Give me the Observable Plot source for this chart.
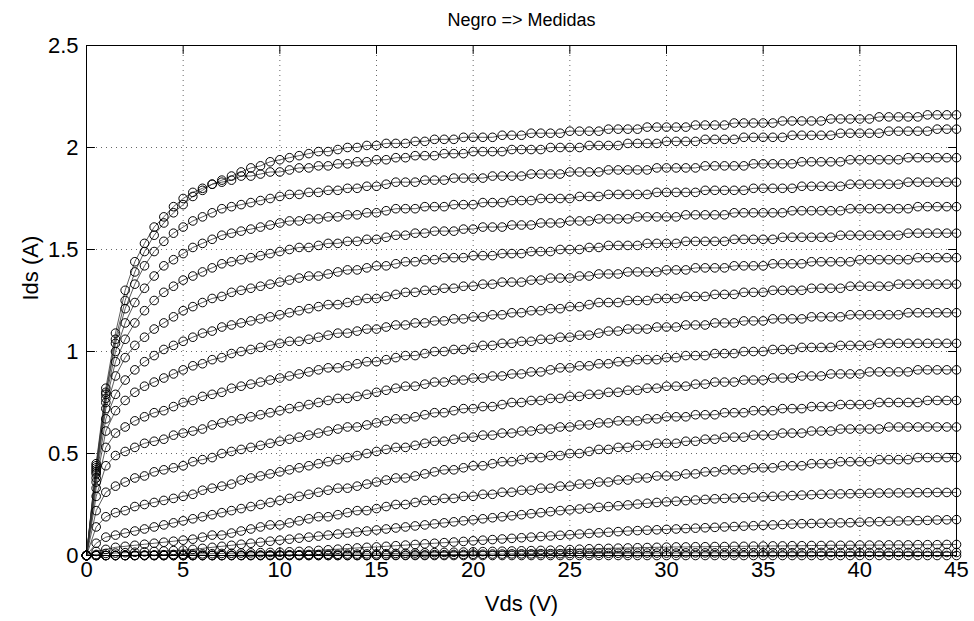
<!DOCTYPE html>
<html><head><meta charset="utf-8">
<script src="https://cdn.jsdelivr.net/npm/d3@7"></script>
<script src="https://cdn.jsdelivr.net/npm/@observablehq/plot@0.6"></script>
<style>
body{margin:0;background:#fff}
#chart svg{font-family:"Liberation Sans",Arial,Helvetica,sans-serif}
</style>
</head><body><div id="chart"></div>
<script>
const title = "Negro => Medidas";
const xLabel = "Vds (V)";
const yLabel = "Ids (A)";
const xTicks = [0,5,10,15,20,25,30,35,40,45];
const yTicks = [0,0.5,1,1.5,2,2.5];

const vds = [0,0.5,1,1.5,2,2.5,3,3.5,4,4.5,5,5.5,6,6.5,7,7.5,8,8.5,9,9.5,10,10.5,11,11.5,12,12.5,13,13.5,14,14.5,15,15.5,16,16.5,17,17.5,18,18.5,19,19.5,20,20.5,21,21.5,22,22.5,23,23.5,24,24.5,25,25.5,26,26.5,27,27.5,28,28.5,29,29.5,30,30.5,31,31.5,32,32.5,33,33.5,34,34.5,35,35.5,36,36.5,37,37.5,38,38.5,39,39.5,40,40.5,41,41.5,42,42.5,43,43.5,44,44.5,45];

const c1 = [0,.44,.80,1.06,1.25,1.39,1.49,1.57,1.63,1.68,
1.72,1.76,1.79,1.82,1.84,1.86,1.88,1.90,1.91,1.93,
1.94,1.95,1.96,1.97,1.98,1.98,1.99,2.00,2.00,2.01,
2.01,2.02,2.02,2.02,2.03,2.03,2.04,2.04,2.04,2.05,
2.05,2.05,2.05,2.06,2.06,2.06,2.07,2.07,2.07,2.07,
2.08,2.08,2.08,2.08,2.09,2.09,2.09,2.09,2.10,2.10,
2.10,2.10,2.10,2.11,2.11,2.11,2.11,2.12,2.12,2.12,
2.12,2.12,2.13,2.13,2.13,2.13,2.13,2.14,2.14,2.14,
2.14,2.14,2.15,2.15,2.15,2.15,2.15,2.16,2.16,2.16,
2.16];
const c2 = [0,.45,.82,1.09,1.30,1.44,1.53,1.61,1.66,1.71,
1.75,1.78,1.80,1.82,1.83,1.84,1.86,1.86,1.87,1.88,
1.88,1.89,1.90,1.90,1.91,1.91,1.92,1.92,1.93,1.93,
1.94,1.94,1.95,1.95,1.96,1.96,1.96,1.97,1.97,1.97,
1.98,1.98,1.98,1.98,1.99,1.99,1.99,1.99,2.00,2.00,
2.00,2.00,2.01,2.01,2.01,2.01,2.02,2.02,2.02,2.02,
2.03,2.03,2.03,2.03,2.04,2.04,2.04,2.04,2.05,2.05,
2.05,2.05,2.05,2.06,2.06,2.06,2.06,2.06,2.07,2.07,
2.07,2.07,2.07,2.08,2.08,2.08,2.08,2.08,2.09,2.09,
2.09];
const c3 = [0,.43,.79,1.04,1.21,1.33,1.42,1.49,1.54,1.58,
1.61,1.64,1.66,1.68,1.70,1.71,1.72,1.73,1.74,1.75,
1.76,1.77,1.77,1.78,1.78,1.79,1.79,1.80,1.80,1.81,
1.81,1.82,1.83,1.83,1.83,1.84,1.84,1.84,1.85,1.85,
1.85,1.85,1.86,1.86,1.86,1.86,1.87,1.87,1.87,1.87,
1.88,1.88,1.88,1.88,1.89,1.89,1.89,1.89,1.89,1.90,
1.90,1.90,1.90,1.90,1.91,1.91,1.91,1.91,1.91,1.92,
1.92,1.92,1.92,1.92,1.93,1.93,1.93,1.93,1.93,1.94,
1.94,1.94,1.94,1.94,1.94,1.95,1.95,1.95,1.95,1.95,
1.95];
const c4 = [0,.42,.77,1.00,1.14,1.24,1.31,1.37,1.42,1.45,
1.48,1.51,1.53,1.55,1.57,1.58,1.59,1.60,1.61,1.62,
1.63,1.64,1.64,1.65,1.65,1.66,1.66,1.67,1.67,1.68,
1.68,1.69,1.70,1.70,1.70,1.71,1.71,1.71,1.72,1.72,
1.72,1.73,1.73,1.73,1.74,1.74,1.74,1.75,1.75,1.75,
1.75,1.76,1.76,1.76,1.77,1.77,1.77,1.77,1.77,1.78,
1.78,1.78,1.78,1.78,1.79,1.79,1.79,1.79,1.79,1.80,
1.80,1.80,1.80,1.80,1.81,1.81,1.81,1.81,1.81,1.82,
1.82,1.82,1.82,1.82,1.82,1.83,1.83,1.83,1.83,1.83,
1.83];
const c5 = [0,.41,.75,.95,1.06,1.14,1.20,1.25,1.29,1.32,
1.35,1.37,1.39,1.41,1.43,1.44,1.45,1.46,1.47,1.48,
1.49,1.50,1.51,1.51,1.52,1.53,1.53,1.54,1.54,1.55,
1.55,1.56,1.57,1.57,1.58,1.58,1.59,1.59,1.59,1.60,
1.60,1.61,1.61,1.61,1.62,1.62,1.62,1.63,1.63,1.63,
1.64,1.64,1.64,1.65,1.65,1.65,1.65,1.66,1.66,1.66,
1.66,1.66,1.67,1.67,1.67,1.67,1.67,1.68,1.68,1.68,
1.68,1.68,1.68,1.69,1.69,1.69,1.69,1.69,1.69,1.70,
1.70,1.70,1.70,1.70,1.70,1.70,1.71,1.71,1.71,1.71,
1.71];
const c6 = [0,.40,.72,.88,.97,1.03,1.07,1.11,1.14,1.17,
1.20,1.22,1.24,1.26,1.27,1.29,1.30,1.31,1.32,1.33,
1.34,1.35,1.36,1.37,1.37,1.38,1.39,1.40,1.40,1.41,
1.42,1.42,1.43,1.44,1.44,1.45,1.45,1.46,1.46,1.46,
1.47,1.47,1.47,1.48,1.48,1.48,1.49,1.49,1.49,1.50,
1.50,1.50,1.51,1.51,1.52,1.52,1.52,1.52,1.53,1.53,
1.53,1.53,1.54,1.54,1.54,1.54,1.54,1.55,1.55,1.55,
1.55,1.55,1.56,1.56,1.56,1.56,1.56,1.56,1.57,1.57,
1.57,1.57,1.57,1.57,1.57,1.58,1.58,1.58,1.58,1.58,
1.58];
const c7 = [0,.38,.67,.79,.86,.91,.95,.98,1.01,1.03,
1.05,1.07,1.09,1.10,1.12,1.13,1.14,1.15,1.16,1.17,
1.18,1.19,1.20,1.21,1.22,1.23,1.23,1.24,1.25,1.26,
1.26,1.27,1.28,1.29,1.29,1.30,1.30,1.31,1.31,1.32,
1.32,1.33,1.33,1.34,1.34,1.34,1.35,1.35,1.36,1.36,
1.36,1.37,1.37,1.38,1.38,1.38,1.39,1.39,1.39,1.39,
1.40,1.40,1.40,1.41,1.41,1.41,1.41,1.42,1.42,1.42,
1.42,1.43,1.43,1.43,1.43,1.44,1.44,1.44,1.44,1.44,
1.45,1.45,1.45,1.45,1.45,1.45,1.46,1.46,1.46,1.46,
1.46];
const c8 = [0,.36,.61,.71,.76,.80,.83,.85,.87,.89,
.91,.93,.94,.96,.97,.99,1.00,1.01,1.02,1.03,
1.04,1.05,1.05,1.06,1.07,1.08,1.09,1.09,1.10,1.11,
1.11,1.12,1.13,1.13,1.14,1.14,1.15,1.15,1.16,1.16,
1.17,1.17,1.18,1.18,1.19,1.19,1.20,1.20,1.21,1.21,
1.22,1.22,1.23,1.24,1.24,1.24,1.25,1.25,1.25,1.26,
1.26,1.26,1.27,1.27,1.27,1.28,1.28,1.28,1.29,1.29,
1.29,1.30,1.30,1.30,1.30,1.31,1.31,1.31,1.31,1.32,
1.32,1.32,1.32,1.32,1.33,1.33,1.33,1.33,1.33,1.33,
1.33];
const c9 = [0,.33,.53,.60,.63,.66,.68,.70,.71,.73,
.75,.76,.78,.79,.80,.82,.83,.84,.85,.86,
.87,.88,.89,.90,.91,.92,.92,.93,.94,.95,
.95,.96,.97,.98,.98,.99,1.00,1.00,1.01,1.01,
1.02,1.03,1.03,1.04,1.04,1.05,1.05,1.06,1.06,1.07,
1.07,1.08,1.08,1.09,1.10,1.10,1.11,1.11,1.11,1.12,
1.12,1.12,1.13,1.13,1.13,1.14,1.14,1.14,1.15,1.15,
1.15,1.16,1.16,1.16,1.16,1.17,1.17,1.17,1.17,1.18,
1.18,1.18,1.18,1.18,1.18,1.19,1.19,1.19,1.19,1.19,
1.19];
const c10 = [0,.29,.44,.49,.51,.53,.55,.56,.57,.59,
.60,.61,.62,.64,.65,.66,.67,.68,.69,.70,
.71,.72,.73,.74,.75,.76,.77,.77,.78,.79,
.80,.81,.82,.83,.83,.84,.85,.85,.86,.86,
.87,.87,.88,.88,.89,.89,.90,.90,.91,.92,
.92,.93,.93,.94,.94,.95,.95,.96,.96,.96,
.97,.97,.98,.98,.98,.99,.99,.99,1.00,1.00,
1.00,1.01,1.01,1.01,1.02,1.02,1.02,1.02,1.03,1.03,
1.03,1.03,1.04,1.04,1.04,1.04,1.04,1.04,1.04,1.04,
1.04];
const c11 = [0,.22,.31,.34,.36,.38,.39,.41,.42,.43,
.44,.46,.47,.48,.50,.51,.52,.53,.54,.55,
.56,.57,.58,.59,.60,.61,.62,.63,.63,.64,
.65,.66,.67,.67,.68,.69,.70,.70,.71,.72,
.72,.73,.73,.74,.75,.75,.76,.76,.77,.77,
.78,.78,.79,.79,.80,.80,.81,.81,.82,.82,
.83,.83,.83,.84,.84,.85,.85,.85,.86,.86,
.86,.87,.87,.87,.88,.88,.88,.89,.89,.89,
.89,.90,.90,.90,.90,.90,.91,.91,.91,.91,
.91];
const c12 = [0,.14,.19,.21,.22,.24,.25,.26,.27,.28,
.29,.30,.32,.33,.34,.35,.37,.38,.39,.40,
.41,.42,.43,.44,.45,.46,.47,.48,.49,.50,
.51,.52,.53,.53,.54,.55,.56,.56,.57,.58,
.58,.59,.59,.60,.60,.61,.61,.62,.62,.63,
.63,.64,.64,.65,.65,.66,.66,.66,.67,.67,
.68,.68,.68,.69,.69,.69,.70,.70,.70,.71,
.71,.71,.72,.72,.72,.73,.73,.73,.74,.74,
.74,.74,.75,.75,.75,.75,.75,.76,.76,.76,
.76];
const c13 = [0,.06,.09,.10,.11,.12,.13,.14,.15,.16,
.17,.18,.19,.20,.21,.22,.23,.24,.25,.26,
.27,.28,.29,.30,.31,.32,.33,.33,.34,.35,
.36,.37,.38,.38,.39,.40,.41,.42,.42,.43,
.44,.44,.45,.46,.46,.47,.48,.48,.49,.49,
.50,.50,.51,.52,.52,.53,.53,.54,.54,.55,
.55,.55,.56,.56,.57,.57,.58,.58,.58,.59,
.59,.59,.60,.60,.60,.61,.61,.61,.62,.62,
.62,.62,.62,.63,.63,.63,.63,.63,.63,.63,
.63];
const c14 = [0,.02,.03,.04,.045,.05,.055,.06,.065,.07,
.075,.08,.09,.10,.10,.11,.12,.13,.14,.15,
.15,.16,.17,.18,.19,.19,.20,.21,.22,.22,
.23,.24,.25,.25,.26,.27,.27,.28,.28,.29,
.29,.30,.30,.31,.31,.32,.32,.33,.33,.34,
.34,.35,.35,.36,.36,.37,.37,.38,.38,.39,
.39,.39,.40,.40,.41,.41,.42,.42,.42,.43,
.43,.43,.44,.44,.44,.45,.45,.45,.46,.46,
.46,.46,.47,.47,.47,.47,.48,.48,.48,.48,
.48];
const c15 = [0,.005,.01,.012,.014,.016,.018,.02,.022,.024,
.026,.03,.035,.04,.045,.05,.055,.06,.065,.07,
.075,.08,.085,.09,.095,.10,.105,.11,.115,.12,
.125,.13,.135,.14,.145,.15,.155,.16,.165,.17,
.175,.18,.185,.19,.195,.20,.205,.21,.215,.22,
.224,.228,.232,.236,.24,.244,.248,.252,.256,.26,
.263,.266,.269,.272,.275,.278,.28,.282,.284,.286,
.288,.29,.292,.294,.296,.298,.30,.301,.302,.303,
.304,.305,.306,.306,.307,.307,.308,.308,.309,.309,
.309];
const c16 = [0,0,0,0,0,.001,.002,.003,.004,.005,
.006,.007,.008,.009,.010,.011,.012,.013,.014,.015,
.016,.018,.02,.022,.025,.028,.031,.034,.037,.04,
.042,.045,.048,.051,.054,.057,.06,.063,.066,.069,
.072,.075,.078,.081,.084,.087,.09,.093,.096,.099,
.102,.105,.108,.111,.114,.117,.12,.122,.124,.126,
.128,.13,.132,.134,.136,.138,.14,.142,.144,.146,
.148,.15,.152,.154,.156,.157,.158,.159,.16,.161,
.163,.165,.166,.168,.169,.17,.171,.172,.174,.175,
.176];
const c17 = [0,0,0,0,0,0,0,0,0,0,
0,0,0,0,0,.001,.001,.002,.002,.003,
.003,.004,.004,.005,.005,.006,.006,.007,.007,.008,
.008,.009,.01,.011,.012,.013,.014,.015,.016,.017,
.018,.019,.02,.021,.022,.023,.024,.025,.026,.027,
.029,.031,.033,.034,.035,.036,.037,.038,.039,.04,
.041,.042,.042,.043,.043,.044,.044,.045,.045,.046,
.046,.047,.047,.048,.048,.049,.049,.05,.05,.05,
.051,.051,.051,.052,.052,.052,.053,.053,.053,.054,
.054];
const c18 = [0,0,0,0,0,0,0,0,0,0,
0,0,0,0,0,0,0,0,0,0,
0,0,0,0,0,0,0,0,0,0,
.001,.001,.002,.002,.003,.003,.004,.004,.005,.005,
.006,.006,.007,.007,.008,.008,.008,.009,.009,.009,
.010,.010,.010,.011,.011,.011,.011,.012,.012,.012,
.012,.012,.013,.013,.013,.013,.013,.013,.014,.014,
.014,.014,.014,.014,.014,.014,.015,.015,.015,.015,
.015,.015,.015,.015,.015,.015,.015,.015,.015,.015,
.015];
const c19 = [0,0,0,0,0,0,0,0,0,0,
0,0,0,0,0,0,0,0,0,0,
0,0,0,0,0,0,0,0,0,0,
0,0,0,0,0,0,0,0,0,0,
0,0,0,0,0,0,0,0,0,0,
0,0,0,0,0,0,0,0,0,0,
0,0,0,0,0,0,0,0,0,0,
0,0,0,0,0,0,0,0,0,0,
0,0,0,0,0,0,0,0,0,0,
0];

const curves = [c1,c2,c3,c4,c5,c6,c7,c8,c9,c10,c11,c12,c13,c14,c15,c16,c17,c18,c19];
const rows = curves.flatMap((vals, i) => vals.map((v, j) => ({curve: i, vds: vds[j], ids: v})));

const tickShape = {draw(context, l) { context.moveTo(0, 0); context.lineTo(0, -l); }};
const font = "'Liberation Sans', Arial, Helvetica, sans-serif";
const plot = Plot.plot({
  width: 974, height: 621,
  marginLeft: 86, marginRight: 18, marginTop: 45, marginBottom: 66,
  style: {fontFamily: font, fontSize: "22px", background: "#fff", color: "#000", overflow: "visible"},
  x: {domain: [0, 45], label: null},
  y: {domain: [0, 2.5], label: null},
  marks: [
    Plot.gridX(xTicks, {stroke: "#000", strokeOpacity: 0.6, strokeDasharray: "1,4"}),
    Plot.gridY(yTicks, {stroke: "#000", strokeOpacity: 0.6, strokeDasharray: "1,4"}),
    Plot.line(rows, {x: "vds", y: "ids", z: "curve", stroke: "#333", strokeWidth: 0.8}),
    Plot.dot(rows, {x: "vds", y: "ids", r: 4.3, stroke: "#000", strokeWidth: 1, fill: "none"}),
    Plot.frame({stroke: "#000", strokeWidth: 1}),
    Plot.vector(xTicks, {x: d => d, frameAnchor: "bottom", length: 8, rotate: 0, anchor: "start", shape: tickShape, stroke: "#000", strokeWidth: 1}),
    Plot.vector(xTicks, {x: d => d, frameAnchor: "top", length: 8, rotate: 180, anchor: "start", shape: tickShape, stroke: "#000", strokeWidth: 1}),
    Plot.vector(yTicks, {y: d => d, frameAnchor: "left", length: 8, rotate: 90, anchor: "start", shape: tickShape, stroke: "#000", strokeWidth: 1}),
    Plot.vector(yTicks, {y: d => d, frameAnchor: "right", length: 8, rotate: -90, anchor: "start", shape: tickShape, stroke: "#000", strokeWidth: 1}),
    Plot.axisX({ticks: xTicks, anchor: "bottom", tickSize: 0, tickPadding: 6, fontSize: 22, tickFormat: d => String(d)}),
    Plot.axisY({ticks: yTicks, anchor: "left", tickSize: 0, tickPadding: 8, fontSize: 22, tickFormat: d => String(d)}),
    Plot.text([title], {text: d => d, frameAnchor: "top", dy: -32, fontSize: 18, fill: "#000"}),
    Plot.text([xLabel], {text: d => d, frameAnchor: "bottom", dy: 55, fontSize: 22, fill: "#000"}),
    Plot.text([yLabel], {text: d => d, frameAnchor: "left", dx: -56, rotate: -90, fontSize: 22, fill: "#000"})
  ]
});
document.getElementById("chart").appendChild(plot);
</script>
</body></html>
